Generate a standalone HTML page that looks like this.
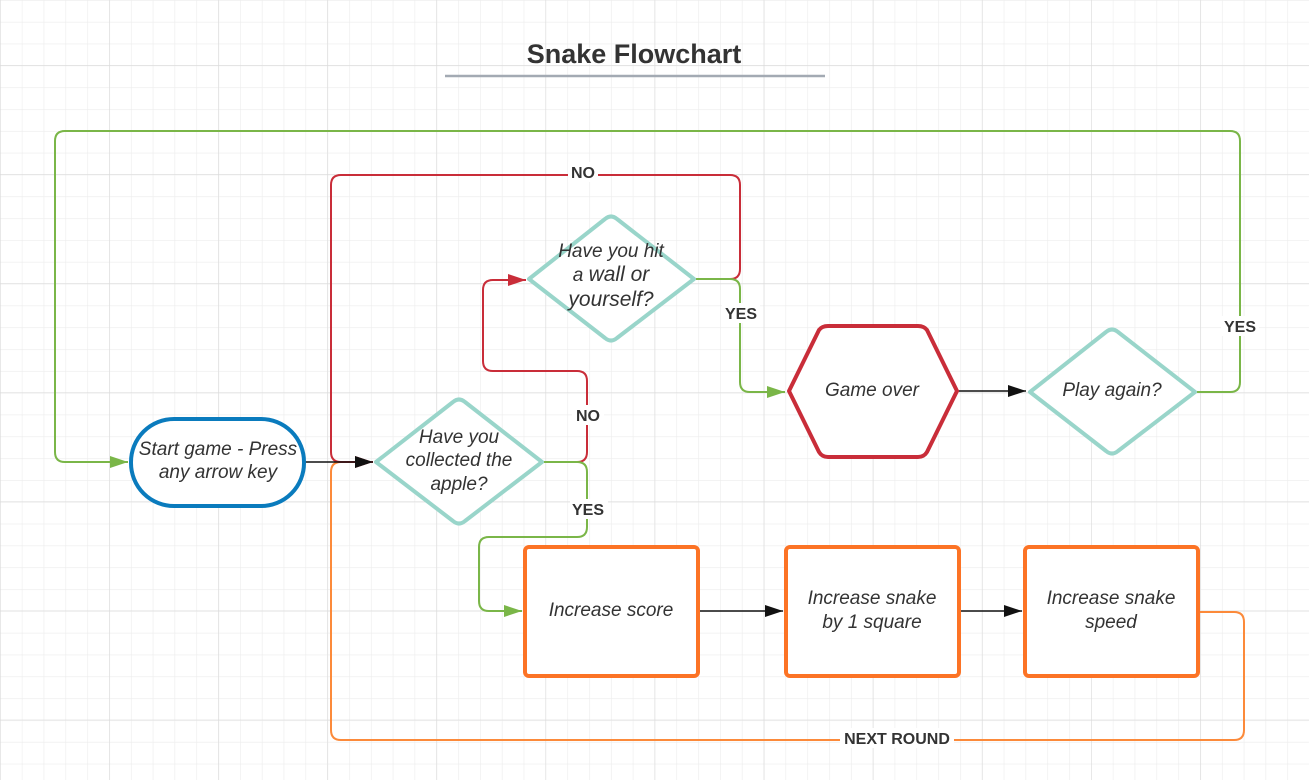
<!DOCTYPE html>
<html><head><meta charset="utf-8"><style>
html,body{margin:0;padding:0;background:#fff}
svg{display:block}
text{font-family:"Liberation Sans",Arial,sans-serif;fill:#333}
.t{font-style:italic;font-size:19px}
.l{font-weight:bold;font-size:16px}
</style></head><body>
<svg width="1309" height="780" viewBox="0 0 1309 780" xmlns="http://www.w3.org/2000/svg">
<defs>
<pattern id="mi" width="21.82" height="21.82" patternUnits="userSpaceOnUse" x="0" y="0">
<path d="M0 0H21.82M0 0V21.82" stroke="#ececec" stroke-width="1.2" fill="none"/>
</pattern>
<pattern id="ma" width="109.1" height="109.1" patternUnits="userSpaceOnUse" x="0" y="-44">
<path d="M0 0H109.1M0 0V109.1" stroke="#dadada" stroke-width="1.2" fill="none"/>
</pattern>
<marker id="ab" markerWidth="10" markerHeight="10" refX="9" refY="5" orient="auto" markerUnits="userSpaceOnUse"><path d="M0 0L18 5L0 10z" fill="#000"/></marker>
<marker id="ak" viewBox="0 0 18 12" markerWidth="18" markerHeight="12" refX="18" refY="6" orient="auto" markerUnits="userSpaceOnUse"><path d="M0 0L18 6L0 12z" fill="#111"/></marker>
<marker id="ag" viewBox="0 0 18 12" markerWidth="18" markerHeight="12" refX="18" refY="6" orient="auto" markerUnits="userSpaceOnUse"><path d="M0 0L18 6L0 12z" fill="#7ab648"/></marker>
<marker id="ar" viewBox="0 0 18 12" markerWidth="18" markerHeight="12" refX="18" refY="6" orient="auto" markerUnits="userSpaceOnUse"><path d="M0 0L18 6L0 12z" fill="#c92d39"/></marker>
</defs>
<rect width="1309" height="780" fill="url(#mi)"/>
<rect width="1309" height="780" fill="url(#ma)"/>

<text x="634" y="63" text-anchor="middle" style="font-weight:bold;font-size:27px">Snake Flowchart</text>
<line x1="445" y1="76" x2="825" y2="76" stroke="#a3aab3" stroke-width="2.5"/>

<g fill="none" stroke-width="2" stroke-linejoin="round">
<!-- green big loop -->
<path d="M1197 392H1230Q1240 392 1240 382V141Q1240 131 1230 131H65Q55 131 55 141V452Q55 462 65 462H128" stroke="#7ab648" marker-end="url(#ag)"/>
<!-- orange loop -->
<path d="M1199 612H1234Q1244 612 1244 622V730Q1244 740 1234 740H341Q331 740 331 730V472Q331 462 341 462H355" stroke="#fc8a3a"/>
<!-- red NO from diamond2 -->
<path d="M696 279H730Q740 279 740 269V185Q740 175 730 175H341Q331 175 331 185V452Q331 462 341 462H373" stroke="#c92d39" marker-end="url(#ar)"/>
<!-- red NO from diamond1 -->
<path d="M544 462H577Q587 462 587 452V381Q587 371 577 371H493Q483 371 483 361V290Q483 280 493 280H526" stroke="#c92d39" marker-end="url(#ar)"/>
<!-- green YES diamond2 -->
<path d="M696 279H730Q740 279 740 289V382Q740 392 750 392H785" stroke="#7ab648" marker-end="url(#ag)"/>
<!-- green YES diamond1 -->
<path d="M544 462H577Q587 462 587 472V527Q587 537 577 537H489Q479 537 479 547V601Q479 611 489 611H522" stroke="#7ab648" marker-end="url(#ag)"/>
<!-- black -->
<path d="M305 462H373" stroke="#111" stroke-width="1.5" marker-end="url(#ak)"/>
<path d="M699 611H783" stroke="#111" stroke-width="1.5" marker-end="url(#ak)"/>
<path d="M960 611H1022" stroke="#111" stroke-width="1.5" marker-end="url(#ak)"/>
<path d="M958 391H1026" stroke="#111" stroke-width="1.5" marker-end="url(#ak)"/>
</g>

<!-- labels -->
<g class="l" text-anchor="middle">
<rect x="568" y="162" width="30" height="20" fill="#fff"/><text class="l" x="583" y="178" text-anchor="middle">NO</text>
<rect x="572" y="405" width="32" height="20" fill="#fff"/><text class="l" x="588" y="421" text-anchor="middle">NO</text>
<rect x="722" y="303" width="38" height="20" fill="#fff"/><text class="l" x="741" y="319" text-anchor="middle">YES</text>
<rect x="570" y="499" width="38" height="20" fill="#fff"/><text class="l" x="588" y="515" text-anchor="middle">YES</text>
<rect x="1221" y="316" width="38" height="20" fill="#fff"/><text class="l" x="1240" y="332" text-anchor="middle">YES</text>
<rect x="840" y="728" width="114" height="20" fill="#fff"/><text class="l" x="897" y="744" text-anchor="middle">NEXT ROUND</text>
</g>

<!-- shapes -->
<g stroke-width="4" fill="#fff" stroke-linejoin="round">
<rect x="131" y="419" width="173" height="87" rx="43" stroke="#0a7bbd"/>
<path d="M376 462L453 402Q459 397 465 402L542 462L465 521Q459 526 453 521Z" stroke="#99d5ca"/>
<path d="M529 279L605 219Q611 214 617 219L694 279L617 338Q611 343 605 338Z" stroke="#99d5ca"/>
<path d="M1030 392L1106 332Q1112 327 1118 332L1195 392L1118 451Q1112 456 1106 451Z" stroke="#99d5ca"/>
<path d="M789 391L819 330Q822 326 828 326H918Q924 326 927 330L957 391L927 452Q924 457 918 457H828Q822 457 819 452Z" stroke="#c92d39"/>
<rect x="525" y="547" width="173" height="129" rx="4" stroke="#fc7325"/>
<rect x="786" y="547" width="173" height="129" rx="4" stroke="#fc7325"/>
<rect x="1025" y="547" width="173" height="129" rx="4" stroke="#fc7325"/>
</g>

<g class="t" text-anchor="middle">
<text class="t" x="218" y="455" text-anchor="middle">Start game - Press</text>
<text class="t" x="218" y="478" text-anchor="middle">any arrow key</text>
<text class="t" x="459" y="443" text-anchor="middle">Have you</text>
<text class="t" x="459" y="466" text-anchor="middle">collected the</text>
<text class="t" x="459" y="490" text-anchor="middle">apple?</text>
<text class="t" x="611" y="257" text-anchor="middle">Have you hit</text>
<text class="t" x="611" y="281" text-anchor="middle">a <tspan style="font-size:21px">wall or</tspan></text>
<text class="t" x="611" y="306" text-anchor="middle" style="font-size:21px">yourself?</text>
<text class="t" x="872" y="396" text-anchor="middle">Game over</text>
<text class="t" x="1112" y="396" text-anchor="middle">Play again?</text>
<text class="t" x="611" y="616" text-anchor="middle">Increase score</text>
<text class="t" x="872" y="604" text-anchor="middle">Increase snake</text>
<text class="t" x="872" y="628" text-anchor="middle">by 1 square</text>
<text class="t" x="1111" y="604" text-anchor="middle">Increase snake</text>
<text class="t" x="1111" y="628" text-anchor="middle">speed</text>
</g>
</svg>
</body></html>
